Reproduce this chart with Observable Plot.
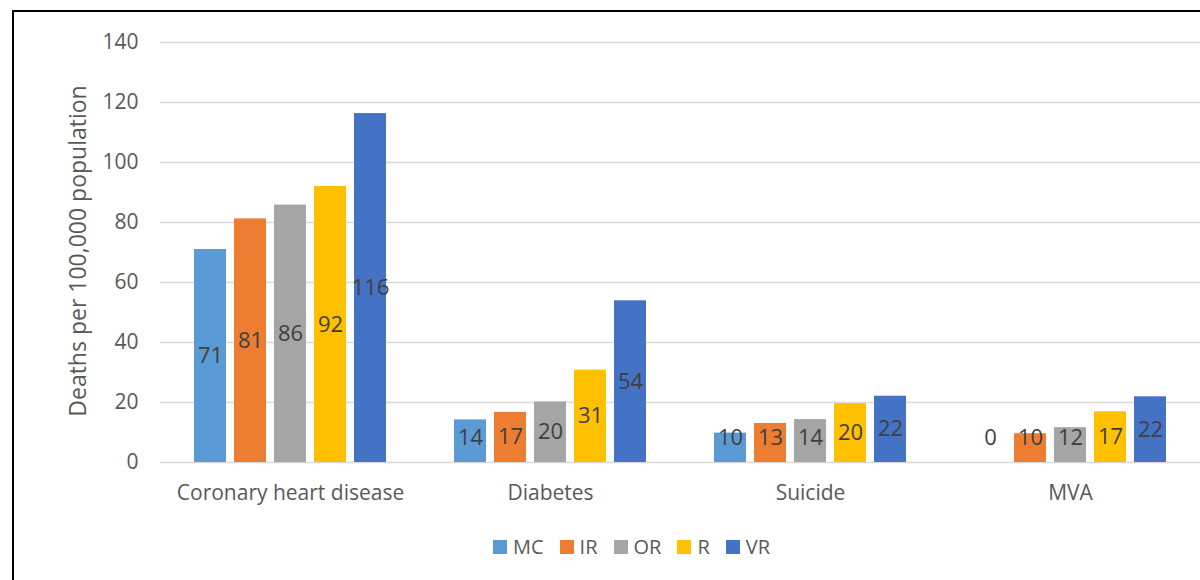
<!DOCTYPE html>
<html>
<head>
<meta charset="utf-8">
<script src="https://cdn.jsdelivr.net/npm/d3@7"></script>
<script src="https://cdn.jsdelivr.net/npm/@observablehq/plot@0.6"></script>
<style>
  html, body { margin: 0; padding: 0; background: #fff; width: 1200px; height: 580px; overflow: hidden; position: relative; }
  #frameTop { position: absolute; left: 12px; top: 10px; width: 1188px; height: 2px; background: #000; }
  #frameLeft { position: absolute; left: 12px; top: 10px; width: 2px; height: 570px; background: #000; }
  #chart { position: absolute; left: 0; top: 0; }
  #ytitle { position: absolute; left: 77px; top: 251px; transform: translate(-50%, -50%) rotate(-90deg); white-space: nowrap; font-family: "Open Sans", sans-serif; font-size: 23px; color: #595959; }
  #legend { position: absolute; top: 533px; left: 493px; display: flex; align-items: center; font-family: "Open Sans", sans-serif; font-size: 20px; color: #595959; }
  #legend .item { display: flex; align-items: center; margin-right: 16px; }
  #legend .sw { width: 14px; height: 14px; margin-right: 6px; }
</style>
</head>
<body>
<div id="frameTop"></div>
<div id="frameLeft"></div>
<div id="chart"></div>
<div id="ytitle"></div>
<div id="legend"></div>
<script>
const categories = ["Coronary heart disease", "Diabetes", "Suicide", "MVA"];
const seriesNames = ["MC", "IR", "OR", "R", "VR"];
const colors = ["#5B9BD5", "#ED7D31", "#A5A5A5", "#FFC000", "#4472C4"];
const values = {
  MC: [71.0, 14.2, 9.8, 0],
  IR: [81.2, 16.7, 13.0, 9.6],
  OR: [85.8, 20.2, 14.3, 11.6],
  R:  [92.0, 30.8, 19.6, 16.9],
  VR: [116.3, 53.9, 22.1, 21.9]
};
const yTicks = [0, 20, 40, 60, 80, 100, 120, 140];
const yTitle = "Deaths per 100,000 population";

const data = [];
categories.forEach((c, i) => seriesNames.forEach(s => data.push({category: c, series: s, value: values[s][i]})));

const font = '"Open Sans", sans-serif';
const chart = Plot.plot({
  width: 1200,
  height: 520,
  marginTop: 42,
  marginBottom: 58,
  marginLeft: 160,
  marginRight: 0,
  style: {fontFamily: font, fontSize: "20px", color: "#595959", background: "transparent", overflow: "visible"},
  fx: {domain: categories, padding: 0, label: null},
  x: {domain: seriesNames, paddingInner: 0.2, paddingOuter: 0.85, axis: null},
  y: {domain: [0, 140], label: null},
  color: {domain: seriesNames, range: colors},
  facet: {data, x: "category"},
  marks: [
    Plot.ruleY(yTicks, {stroke: "#d9d9d9", strokeWidth: 1.5, facet: false}),
    Plot.axisY(yTicks, {tickSize: 0, tickPadding: 22, fontSize: 21, fill: "#595959", label: null}),
    Plot.axisFx({anchor: "bottom", tickSize: 0, tickPadding: 23, fontSize: 21, fill: "#595959", label: null}),
    Plot.barY(data, {x: "series", y: "value", fill: "series", fx: "category"}),
    Plot.text(data, {
      x: "series", fx: "category",
      y: d => Math.max(d.value / 2, 8.3),
      text: d => String(Math.round(d.value)),
      fill: "#404040", fontSize: 22
    })
  ]
});
document.getElementById("chart").appendChild(chart);
document.getElementById("ytitle").textContent = yTitle;

const legend = document.getElementById("legend");
seriesNames.forEach((s, i) => {
  const item = document.createElement("div");
  item.className = "item";
  const sw = document.createElement("div");
  sw.className = "sw";
  sw.style.background = colors[i];
  const t = document.createElement("span");
  t.textContent = s;
  item.appendChild(sw); item.appendChild(t);
  legend.appendChild(item);
});
</script>
</body>
</html>
